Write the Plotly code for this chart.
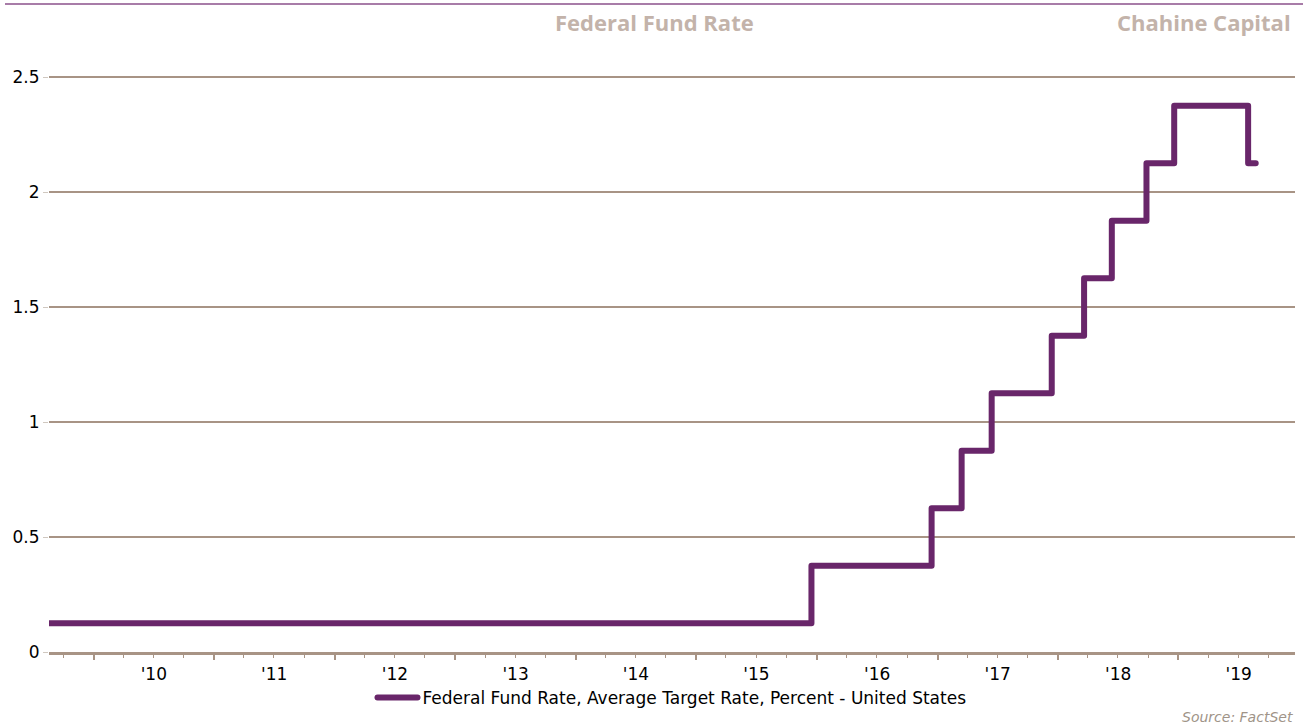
import plotly.graph_objects as go

# Federal funds target rate (midpoint of target range), step changes
dates = ["2009-01-01", "2015-12-16", "2016-12-14", "2017-03-15", "2017-06-14",
         "2017-12-13", "2018-03-21", "2018-06-13", "2018-09-26", "2018-12-19",
         "2019-07-31", "2019-08-23"]
rates = [0.125, 0.375, 0.625, 0.875, 1.125, 1.375, 1.625, 1.875, 2.125, 2.375,
         2.125, 2.125]

series_name = "Federal Fund Rate, Average Target Rate, Percent - United States"
y_ticks = [0, 0.5, 1, 1.5, 2, 2.5]
y_tick_labels = ["0", "0.5", "1", "1.5", "2", "2.5"]

LINE = "#69266a"
GRID = "#a89485"
TITLE_C = "#c3b3aa"
FONT = "DejaVu Sans"

PL, PR, PT, PB = 49, 1295, 54, 652
PW, PH = PR - PL, PB - PT

fig = go.Figure()
fig.add_trace(go.Scatter(
    x=dates, y=rates, mode="lines", name=series_name,
    line=dict(color=LINE, width=6, shape="hv"),
))

fig.update_layout(
    width=1303, height=727,
    margin=dict(l=PL, r=1303 - PR, t=PT, b=727 - PB, autoexpand=False),
    plot_bgcolor="white", paper_bgcolor="white",
    font=dict(family=FONT, size=16, color="black"),
    showlegend=True,
    legend=dict(orientation="h", x=0.5, xanchor="center",
                y=-(698 - PB) / PH, yanchor="middle",
                font=dict(family=FONT, size=17, color="black"),
                itemwidth=40),
    xaxis=dict(
        type="date",
        range=["2009-08-19", "2019-12-20"],
        dtick="M12", tick0="2010-01-01", ticklabelmode="period",
        tickformat="'%y",
        ticks="outside", ticklen=5, tickwidth=1.5, tickcolor=GRID,
        minor=dict(dtick="M3", ticks="outside", ticklen=3, tickwidth=1.2, tickcolor=GRID, showgrid=False),
        showline=True, linecolor=GRID, linewidth=2.5,
        showgrid=False, zeroline=False,
        ticklabelstandoff=0,
        tickfont=dict(family=FONT, size=17, color="black"),
    ),
    yaxis=dict(
        range=[0, 2.6],
        tickvals=y_ticks, ticktext=y_tick_labels,
        ticks="outside", ticklen=5, tickcolor="#d0c8c0", tickwidth=1,
        showgrid=True, gridcolor=GRID, gridwidth=1.5,
        zeroline=False, showline=False,
        tickfont=dict(family=FONT, size=17, color="black"),
    ),
    shapes=[dict(type="line", xref="paper", yref="paper",
                 x0=(5 - PL) / PW, x1=(1303 - PL) / PW,
                 y0=1 + (PT - 4) / PH, y1=1 + (PT - 4) / PH,
                 line=dict(color="#a87ca8", width=2))],
    annotations=[
        dict(text="<b>Federal Fund Rate</b>", xref="paper", yref="paper",
             x=(654 - PL) / PW, y=1 + (PT - 22) / PH, xanchor="center", yanchor="middle",
             showarrow=False, font=dict(family="Open Sans", size=22, color=TITLE_C)),
        dict(text="<b>Chahine Capital</b>", xref="paper", yref="paper",
             x=(1293 - PL) / PW, y=1 + (PT - 22) / PH, xanchor="right", yanchor="middle",
             showarrow=False, font=dict(family="Open Sans", size=22, color=TITLE_C)),
        dict(text="<i>Source: FactSet</i>", xref="paper", yref="paper",
             x=(1295 - PL) / PW, y=-(717 - PB) / PH, xanchor="right", yanchor="middle",
             showarrow=False, font=dict(family=FONT, size=14, color="#a09488")),
    ],
)

round_js = """
var gd = document.getElementById('{plot_id}');
function roundLines() {
  gd.querySelectorAll('.scatterlayer path.js-line, .legend path.js-line').forEach(function(p) {
    p.style.strokeLinejoin = 'round';
    p.style.strokeLinecap = 'round';
  });
}
roundLines();
gd.on('plotly_afterplot', roundLines);
"""

fig.write_html("out.html", post_script=round_js)
